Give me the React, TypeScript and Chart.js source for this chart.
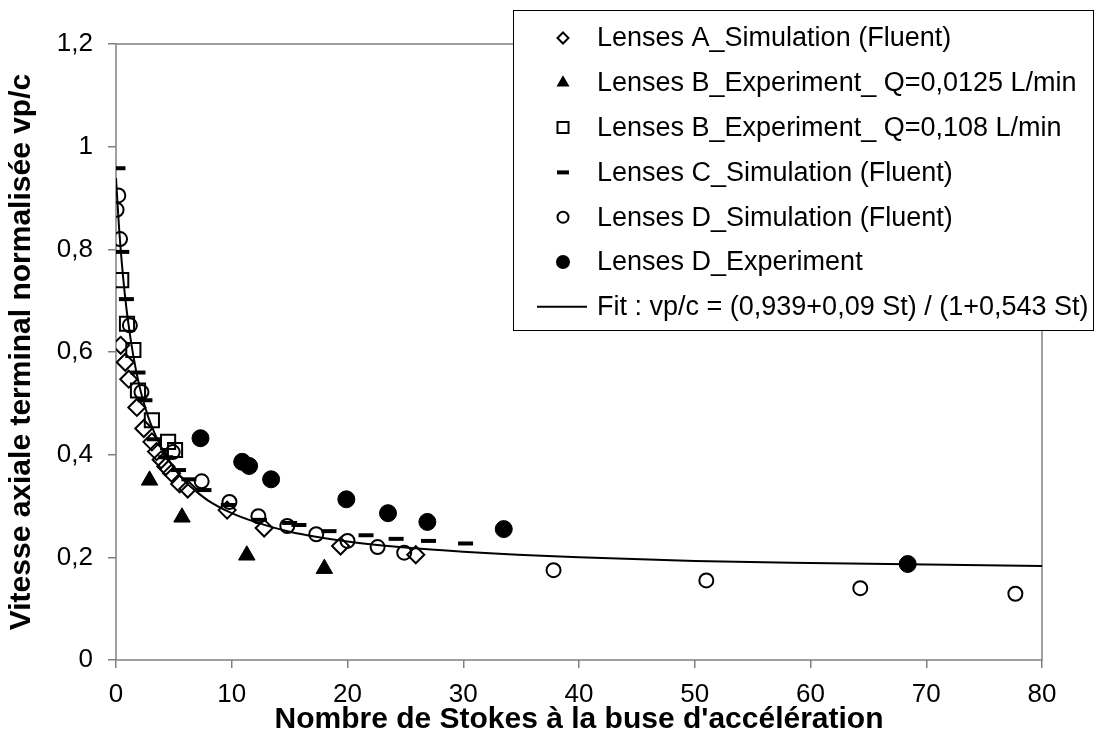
import React, { useEffect, useRef } from 'react';
import { Chart, registerables } from 'chart.js';

Chart.register(...registerables);

// ---- Data ----
const X_TICKS = [0, 10, 20, 30, 40, 50, 60, 70, 80];
const Y_TICK_LABELS = ['0', '0,2', '0,4', '0,6', '0,8', '1', '1,2'];

const aX = [0.4, 0.8, 1.1, 1.8, 2.4, 3.1, 3.5, 3.9, 4.3, 4.8, 5.5, 6.2, 9.6, 12.8, 19.4, 25.9];
const aY = [0.613, 0.58, 0.547, 0.492, 0.451, 0.425, 0.406, 0.39, 0.377, 0.364, 0.343, 0.333, 0.292, 0.257, 0.222, 0.205];

const b1X = [2.9, 5.7, 11.3, 18.0];
const b1Y = [0.35, 0.278, 0.204, 0.178];

const b2X = [0.45, 0.95, 1.5, 1.9, 3.1, 4.5, 5.1];
const b2Y = [0.74, 0.655, 0.604, 0.525, 0.467, 0.425, 0.409];

const cX = [0.17, 0.5, 0.9, 1.9, 2.5, 3.3, 4.3, 5.4, 6.3, 7.6, 9.7, 12.4, 15.0, 15.8, 18.4, 21.6, 24.2, 27.0, 30.2];
const cY = [0.958, 0.795, 0.703, 0.56, 0.506, 0.43, 0.395, 0.37, 0.352, 0.331, 0.302, 0.273, 0.267, 0.263, 0.251, 0.243, 0.236, 0.232, 0.227];

const dSimX = [0.05, 0.2, 0.35, 1.2, 2.2, 4.9, 7.4, 9.8, 12.3, 14.8, 17.3, 20.0, 22.6, 24.9, 37.8, 51.0, 64.3, 77.7];
const dSimY = [0.877, 0.905, 0.82, 0.652, 0.522, 0.405, 0.348, 0.308, 0.28, 0.261, 0.245, 0.232, 0.22, 0.209, 0.175, 0.155, 0.14, 0.129];

const dExpX = [7.3, 10.9, 11.5, 13.4, 19.9, 23.5, 26.9, 33.5, 68.4];
const dExpY = [0.432, 0.386, 0.378, 0.352, 0.313, 0.286, 0.269, 0.255, 0.187];

const fitX = [0, 0.25, 0.5, 0.75, 1, 1.5, 2, 2.5, 3, 4, 5, 6, 7, 8, 10, 12, 15, 20, 25, 30, 40, 50, 60, 70, 80];
const fitY = [0.939, 0.847, 0.774, 0.715, 0.667, 0.592, 0.536, 0.494, 0.46, 0.41, 0.374, 0.347, 0.327, 0.31, 0.286, 0.269, 0.25, 0.231, 0.219, 0.211, 0.2, 0.193, 0.189, 0.186, 0.183];

const LEGEND_LABELS = [
  'Lenses A_Simulation (Fluent)',
  'Lenses B_Experiment_ Q=0,0125 L/min',
  'Lenses B_Experiment_ Q=0,108 L/min',
  'Lenses C_Simulation (Fluent)',
  'Lenses D_Simulation (Fluent)',
  'Lenses D_Experiment',
  'Fit : vp/c = (0,939+0,09 St) / (1+0,543 St)',
];

const X_TITLE = "Nombre de Stokes à la buse d'accélération";
const Y_TITLE = 'Vitesse axiale terminal normalisée vp/c';

const FONT = "'Liberation Sans', Arial, sans-serif";

const pts = (xs: number[], ys: number[]) => xs.map((x, i) => ({ x, y: ys[i] }));

function drawMarker(ctx: CanvasRenderingContext2D, style: string, x: number, y: number, filled: boolean) {
  ctx.save();
  ctx.strokeStyle = '#000';
  ctx.fillStyle = '#000';
  ctx.lineWidth = 2;
  ctx.beginPath();
  if (style === 'diamond') {
    const r = 5.5;
    ctx.moveTo(x, y - r);
    ctx.lineTo(x + r, y);
    ctx.lineTo(x, y + r);
    ctx.lineTo(x - r, y);
    ctx.closePath();
    ctx.stroke();
  } else if (style === 'triangle') {
    const r = 7.5;
    ctx.moveTo(x, y - r);
    ctx.lineTo(x + r * 0.87, y + r * 0.5);
    ctx.lineTo(x - r * 0.87, y + r * 0.5);
    ctx.closePath();
    ctx.fill();
  } else if (style === 'square') {
    ctx.rect(x - 5.5, y - 5.5, 11, 11);
    ctx.stroke();
  } else if (style === 'dash') {
    ctx.lineWidth = 4;
    ctx.moveTo(x - 6, y);
    ctx.lineTo(x + 6, y);
    ctx.stroke();
  } else if (style === 'circle') {
    ctx.arc(x, y, filled ? 7 : 5.5, 0, Math.PI * 2);
    if (filled) ctx.fill();
    else ctx.stroke();
  } else if (style === 'line') {
    ctx.moveTo(x - 26, y);
    ctx.lineTo(x + 24, y);
    ctx.stroke();
  }
  ctx.restore();
}

const frameAndLegend = {
  id: 'frameAndLegend',
  beforeDraw(chart: any) {
    const { ctx, chartArea } = chart;
    const { left, top, right, bottom } = chartArea;
    ctx.save();
    ctx.fillStyle = '#fff';
    ctx.fillRect(0, 0, chart.width, chart.height);
    ctx.strokeStyle = '#808080';
    ctx.lineWidth = 1.5;
    ctx.strokeRect(left, top, right - left, bottom - top);
    ctx.restore();
  },
  afterDraw(chart: any) {
    const ctx: CanvasRenderingContext2D = chart.ctx;
    const bx = 513, by = 10, bw = 580, bh = 320;
    ctx.save();
    ctx.fillStyle = '#fff';
    ctx.fillRect(bx, by, bw, bh);
    ctx.strokeStyle = '#000';
    ctx.lineWidth = 1;
    ctx.strokeRect(bx + 0.5, by + 0.5, bw, bh);
    const styles = ['diamond', 'triangle', 'square', 'dash', 'circle', 'circle', 'line'];
    const filled = [false, true, false, true, false, true, false];
    ctx.font = `27px ${FONT}`;
    ctx.textBaseline = 'middle';
    ctx.textAlign = 'left';
    LEGEND_LABELS.forEach((label, i) => {
      const y = 38 + i * 44.8;
      drawMarker(ctx, styles[i], 563, y, filled[i]);
      ctx.fillStyle = '#000';
      ctx.fillText(label, 597, y + 1);
    });
    ctx.restore();
  },
};

export default function App() {
  const canvasRef = useRef<HTMLCanvasElement | null>(null);

  useEffect(() => {
    if (!canvasRef.current) return;
    const transparent = 'rgba(0,0,0,0)';
    const chart = new Chart(canvasRef.current, {
      type: 'scatter',
      data: {
        datasets: [
          {
            label: LEGEND_LABELS[6],
            data: pts(fitX, fitY),
            showLine: true,
            borderColor: '#000',
            borderWidth: 2,
            pointRadius: 0,
            cubicInterpolationMode: 'monotone',
            order: 0,
          } as any,
          {
            label: LEGEND_LABELS[5],
            data: pts(dExpX, dExpY),
            pointStyle: 'circle',
            pointRadius: 8.5,
            backgroundColor: '#000',
            borderColor: '#000',
            borderWidth: 1,
            order: 1,
          },
          {
            label: LEGEND_LABELS[4],
            data: pts(dSimX, dSimY),
            pointStyle: 'circle',
            pointRadius: 7,
            backgroundColor: transparent,
            borderColor: '#000',
            borderWidth: 2,
            order: 2,
          },
          {
            label: LEGEND_LABELS[3],
            data: pts(cX, cY),
            pointStyle: 'line',
            pointRadius: 7.5,
            backgroundColor: '#000',
            borderColor: '#000',
            borderWidth: 4,
            order: 3,
          },
          {
            label: LEGEND_LABELS[2],
            data: pts(b2X, b2Y),
            pointStyle: 'rect',
            pointRadius: 10,
            backgroundColor: transparent,
            borderColor: '#000',
            borderWidth: 2,
            order: 4,
          },
          {
            label: LEGEND_LABELS[1],
            data: pts(b1X, b1Y),
            pointStyle: 'triangle',
            pointRadius: 9.5,
            backgroundColor: '#000',
            borderColor: '#000',
            borderWidth: 1,
            order: 5,
          },
          {
            label: LEGEND_LABELS[0],
            data: pts(aX, aY),
            pointStyle: 'rectRot',
            pointRadius: 8.5,
            backgroundColor: transparent,
            borderColor: '#000',
            borderWidth: 2,
            order: 6,
          },
        ],
      },
      options: {
        responsive: false,
        animation: false,
        events: [],
        devicePixelRatio: 1,
        layout: { padding: { top: 44, right: 54, left: 0, bottom: 0 } },
        plugins: {
          legend: { display: false },
          tooltip: { enabled: false },
        },
        scales: {
          x: {
            type: 'linear',
            min: 0,
            max: 80,
            afterBuildTicks: (scale: any) => {
              scale.ticks = X_TICKS.map((v) => ({ value: v }));
            },
            ticks: {
              color: '#000',
              font: { family: FONT, size: 26 },
              padding: 11,
              maxRotation: 0,
              callback: (v: any) => String(v),
            },
            grid: {
              drawOnChartArea: false,
              drawTicks: true,
              tickLength: 8,
              color: '#808080',
              lineWidth: 1.5,
            },
            border: { display: false },
            title: {
              display: true,
              text: X_TITLE,
              color: '#000',
              font: { family: FONT, size: 30, weight: 'bold' },
              padding: { top: 0, bottom: 18 },
            },
            afterFit: (s: any) => {
              s.height = 96;
            },
          },
          y: {
            type: 'linear',
            min: 0,
            max: 1.2,
            afterBuildTicks: (scale: any) => {
              scale.ticks = Y_TICK_LABELS.map((_, i) => ({ value: i * 0.2 }));
            },
            ticks: {
              color: '#000',
              font: { family: FONT, size: 26 },
              padding: 15,
              callback: (_v: any, i: number) => Y_TICK_LABELS[i],
            },
            grid: {
              drawOnChartArea: false,
              drawTicks: true,
              tickLength: 8,
              color: '#808080',
              lineWidth: 1.5,
            },
            border: { display: false },
            title: {
              display: true,
              text: Y_TITLE,
              color: '#000',
              font: { family: FONT, size: 30, weight: 'bold' },
              padding: { top: 4, bottom: 0 },
            },
            afterFit: (s: any) => {
              s.width = 116;
            },
          },
        },
      },
      plugins: [frameAndLegend],
    } as any);
    return () => chart.destroy();
  }, []);

  return (
    <div style={{ position: 'fixed', left: 0, top: 0, width: 1096, height: 756, background: '#fff' }}>
      <canvas ref={canvasRef} width={1096} height={756} style={{ display: 'block' }} />
    </div>
  );
}
